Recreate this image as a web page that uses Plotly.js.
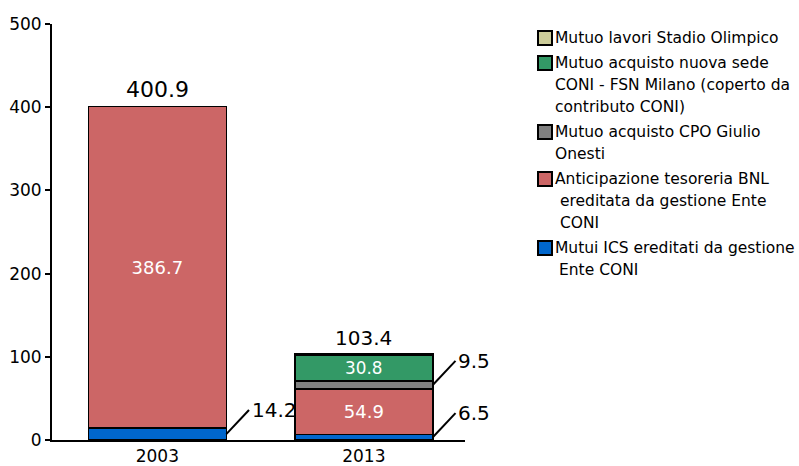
<!DOCTYPE html>
<html><head><meta charset="utf-8">
<script src="https://cdn.plot.ly/plotly-3.0.1.min.js"></script>
<style>body{margin:0;background:#fff}#chart{width:799px;height:466px}</style>
</head><body><div id="chart"></div>
<script>
const categories = ['2003', '2013'];
const seriesNames = [
  'Mutui ICS ereditati da gestione\nEnte CONI',
  'Anticipazione tesoreria BNL\n ereditata da gestione Ente\n CONI',
  'Mutuo acquisto CPO Giulio\nOnesti',
  'Mutuo acquisto nuova sede\nCONI - FSN Milano (coperto da\ncontributo CONI)',
  'Mutuo lavori Stadio Olimpico'
];
const icsValues = [14.2, 6.5];
const bnlValues = [386.7, 54.9];
const cpoValues = [0, 9.5];
const fsnValues = [0, 30.8];
const stadioValues = [0, 1.7];
const totals = [400.9, 103.4];
const seriesColors = ['#0066CC', '#CC6666', '#808080', '#339966', '#CCCC99'];
const insideLabelSeries = [false, true, false, true, false];
const leaderLabelSeries = [true, false, true, false, false];

const series = [icsValues, bnlValues, cpoValues, fsnValues, stadioValues];
const FONT = 'DejaVu Sans, Verdana, sans-serif';
const BW = 0.668;

const traces = series.map((vals, s) => ({
  type: 'bar',
  name: seriesNames[s].replace(/\n/g, ' '),
  x: categories,
  y: vals,
  width: BW,
  marker: {color: seriesColors[s], line: {color: '#000', width: 1.5}},
  text: insideLabelSeries[s] ? vals.map(v => v > 0 ? v.toFixed(1) : '') : undefined,
  textposition: insideLabelSeries[s] ? 'inside' : 'none',
  insidetextanchor: 'middle',
  insidetextfont: {color: '#fff', size: 18, family: FONT},
  showlegend: false,
  hoverinfo: 'x+y+name'
}));

const shapes = [];
const annotations = [];
categories.forEach((c, i) => {
  annotations.push({
    x: i, y: totals[i], xref: 'x', yref: 'y', text: totals[i].toFixed(1),
    showarrow: false, yanchor: 'bottom', yshift: 2,
    font: {size: i === 0 ? 22 : 20, family: FONT, color: '#000'}
  });
  let cum = 0;
  series.forEach((vals, s) => {
    const mid = cum + vals[i] / 2;
    cum += vals[i];
    if (leaderLabelSeries[s] && vals[i] > 0) {
      const x0 = i + BW / 2, x1 = x0 + 0.11, y1 = mid + 29;
      shapes.push({type: 'line', xref: 'x', yref: 'y', x0: x0, y0: mid, x1: x1, y1: y1,
        line: {color: '#000', width: 2}});
      annotations.push({x: x1 + 0.003, y: y1, xref: 'x', yref: 'y', text: vals[i].toFixed(1),
        showarrow: false, xanchor: 'left', yanchor: 'middle',
        font: {size: 20, family: FONT, color: '#000'}});
    }
  });
});

// custom legend (pixel layout converted to paper coords)
const M = {l: 52, r: 334, t: 24, b: 26};
const PW = 799 - M.l - M.r, PH = 466 - M.t - M.b;
const px2x = px => (px - M.l) / PW;
const py2y = py => (466 - M.b - py) / PH;
let ly = 38;
const lineH = 22, itemGap = 25;
for (let s = series.length - 1; s >= 0; s--) {
  const lines = seriesNames[s].split('\n');
  shapes.push({type: 'rect', xref: 'paper', yref: 'paper',
    x0: px2x(538), x1: px2x(552), y0: py2y(ly + 7), y1: py2y(ly - 7),
    fillcolor: seriesColors[s], line: {color: '#000', width: 2}});
  lines.forEach((t, k) => {
    const indent = t.startsWith(' ') ? 5 : (k > 0 && s === 0 ? 4 : 0);
    annotations.push({xref: 'paper', yref: 'paper', x: px2x(553 + indent), y: py2y(ly + k * lineH),
      text: t.trim(), showarrow: false, xanchor: 'left', yanchor: 'middle',
      font: {size: 15.5, family: FONT, color: '#000'}});
  });
  ly += (lines.length - 1) * lineH + itemGap;
}

const layout = {
  width: 799, height: 466,
  margin: Object.assign({autoexpand: false}, M),
  paper_bgcolor: '#fff', plot_bgcolor: '#fff',
  barmode: 'stack',
  font: {family: FONT, color: '#000', size: 16},
  xaxis: {type: 'category', range: [-0.51, 1.49], showline: true, linecolor: '#000', linewidth: 2,
    ticks: '', showgrid: false, tickfont: {size: 17}, fixedrange: true},
  yaxis: {range: [0, 500], dtick: 100, showline: true, linecolor: '#000', linewidth: 2,
    ticks: 'outside', ticklen: 5, tickwidth: 2, tickcolor: '#000', showgrid: false,
    zeroline: false, tickfont: {size: 17}, fixedrange: true},
  showlegend: false,
  shapes: shapes,
  annotations: annotations
};

Plotly.newPlot('chart', traces, layout, {staticPlot: true});
</script></body></html>
